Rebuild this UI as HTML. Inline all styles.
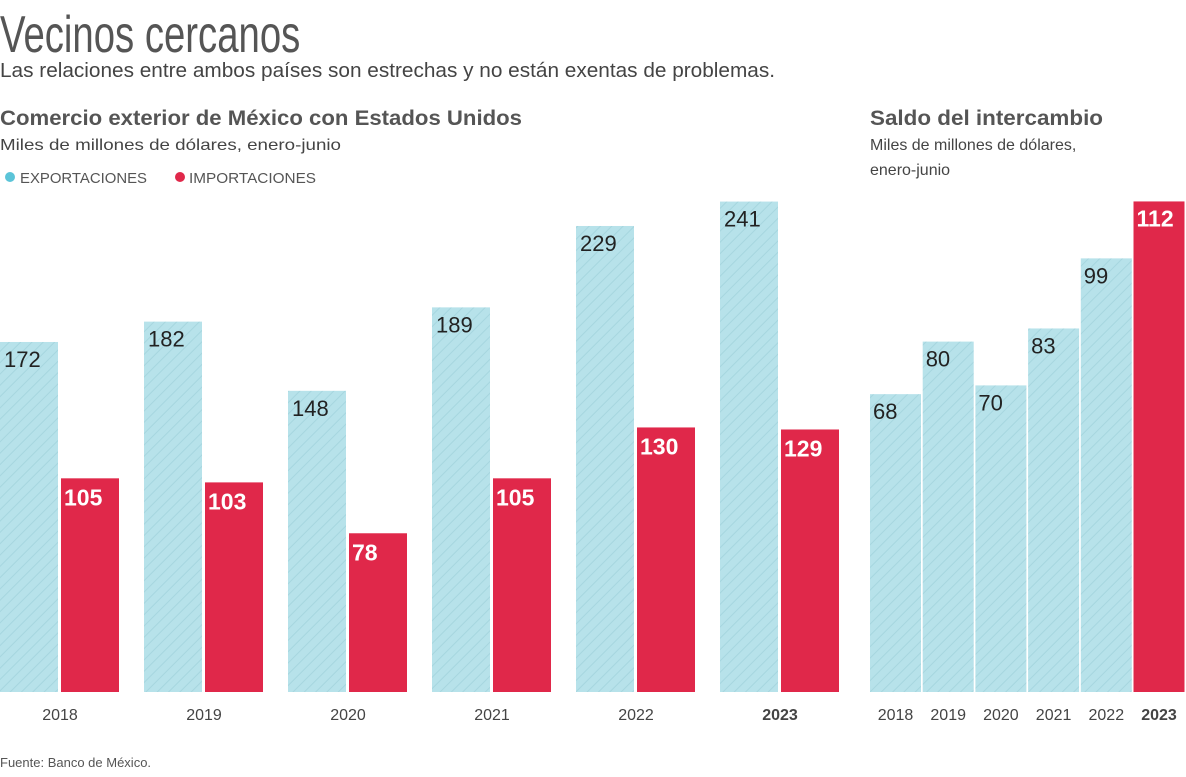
<!DOCTYPE html>
<html><head><meta charset="utf-8"><style>
body{margin:0;background:#fff;width:1186px;height:772px;overflow:hidden;font-family:"Liberation Sans",sans-serif}
</style></head><body>
<svg width="1186" height="772" id="svg">
<defs>
<pattern id="hatch" width="8" height="8" patternUnits="userSpaceOnUse" patternTransform="rotate(-45)">
<rect width="8" height="8" fill="#b7e2ea"/><line x1="0" y1="0" x2="8" y2="0" stroke="#a6d6df" stroke-width="2"/>
</pattern>
</defs>
<text x="0" y="52" font-family="Liberation Sans Narrow, Liberation Sans, sans-serif" font-size="52" fill="#555" transform="scale(0.78,1)" textLength="385" lengthAdjust="spacingAndGlyphs">Vecinos cercanos</text>
<text x="0" y="77" font-size="20" fill="#444" textLength="775" lengthAdjust="spacingAndGlyphs">Las relaciones entre ambos países son estrechas y no están exentas de problemas.</text>
<text x="0" y="125" font-size="21" font-weight="bold" fill="#555" textLength="522" lengthAdjust="spacingAndGlyphs">Comercio exterior de México con Estados Unidos</text>
<text x="0" y="150" font-size="16" fill="#444" textLength="341" lengthAdjust="spacingAndGlyphs">Miles de millones de dólares, enero-junio</text>
<circle cx="10" cy="177" r="5" fill="#5bc4d8"/>
<text x="20" y="183" font-size="15" fill="#555" textLength="127" lengthAdjust="spacingAndGlyphs">EXPORTACIONES</text>
<circle cx="180" cy="177" r="5" fill="#e0284a"/>
<text x="189" y="183" font-size="15" fill="#555" textLength="127" lengthAdjust="spacingAndGlyphs">IMPORTACIONES</text>
<text x="870" y="125" font-size="21" font-weight="bold" fill="#555" textLength="233" lengthAdjust="spacingAndGlyphs">Saldo del intercambio</text>
<text x="870" y="150" font-size="16" fill="#444">Miles de millones de dólares,</text>
<text x="870" y="175" font-size="16" fill="#444">enero-junio</text>
<text x="0" y="767" font-size="13" fill="#555">Fuente: Banco de México.</text>
<g id="left"></g><g id="right"></g>
</svg>
<script>
const years=["2018","2019","2020","2021","2022","2023"];
const exportsV=[172,182,148,189,229,241];
const importsV=[105,103,78,105,130,129];
const balanceV=[68,80,70,83,99,112];
const NS="http://www.w3.org/2000/svg";
const base=692;
function mk(tag,attrs,parent,txt){const e=document.createElementNS(NS,tag);for(const k in attrs)e.setAttribute(k,attrs[k]);if(txt!=null)e.textContent=txt;parent.appendChild(e);return e;}
const yL=v=>base-v*2.035;
const yR=v=>base-v*4.38;
const L=document.getElementById('left'),R=document.getElementById('right');
years.forEach((y,i)=>{
  const x0=i*144;
  let e=mk('rect',{x:x0,y:yL(exportsV[i]),width:58,height:base-yL(exportsV[i]),fill:'url(#hatch)'},L);
  
  
  e=mk('text',{x:x0+4,y:yL(exportsV[i])+25,'font-size':22,fill:'#222'},L,exportsV[i]);
  
  
  e=mk('rect',{x:x0+61,y:yL(importsV[i]),width:58,height:base-yL(importsV[i]),fill:'#e0284a'},L);
  
  
  e=mk('text',{x:x0+64,y:yL(importsV[i])+27,'font-size':23,'font-weight':'bold',fill:'#fff'},L,importsV[i]);
  
  
  e=mk('text',{x:x0+60,y:720,'font-size':16,fill:'#444','text-anchor':'middle','font-weight':i==5?'bold':'normal'},L,y);
  
  
  const rx=870+i*52.7;
  const last=i==5;
  e=mk('rect',{x:rx,y:yR(balanceV[i]),width:51,height:base-yR(balanceV[i]),fill:last?'#e0284a':'url(#hatch)'},R);
  
  
  e=mk('text',{x:rx+3,y:yR(balanceV[i])+25,'font-size':last?23:22,'font-weight':last?'bold':'normal',fill:last?'#fff':'#222'},R,balanceV[i]);
  
  
  e=mk('text',{x:rx+25.5,y:720,'font-size':16,fill:'#444','text-anchor':'middle','font-weight':last?'bold':'normal'},R,y);
  
  
});
</script>
</body></html>
